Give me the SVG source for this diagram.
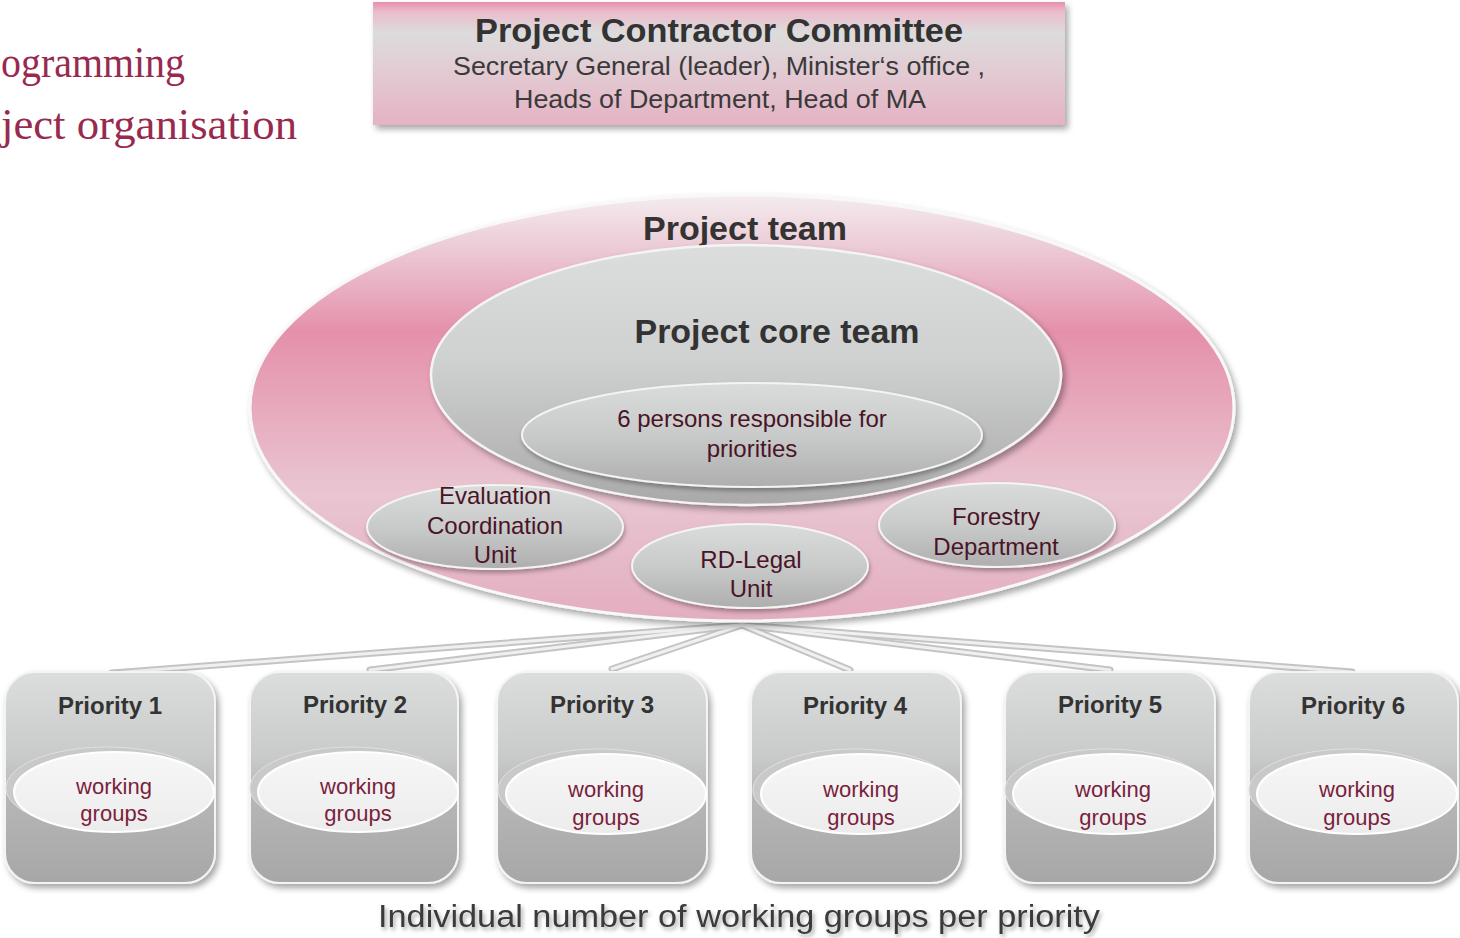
<svg xmlns="http://www.w3.org/2000/svg" width="1460" height="938" viewBox="0 0 1460 938">
<defs>
<linearGradient id="gTop" x1="0" y1="0" x2="0" y2="1">
<stop offset="0" stop-color="#e78fae"/>
<stop offset="0.08" stop-color="#ebbccb"/>
<stop offset="0.25" stop-color="#dcdcdc"/>
<stop offset="0.55" stop-color="#e2ccd4"/>
<stop offset="1" stop-color="#e5b2c4"/>
</linearGradient>
<linearGradient id="gTeam" x1="0" y1="0" x2="0" y2="1">
<stop offset="0" stop-color="#f4ecee"/>
<stop offset="0.12" stop-color="#ecccd6"/>
<stop offset="0.32" stop-color="#e590ab"/>
<stop offset="0.7" stop-color="#e9c6d1"/>
<stop offset="1" stop-color="#e3adc0"/>
</linearGradient>
<linearGradient id="gCore" x1="0" y1="0" x2="0" y2="1">
<stop offset="0" stop-color="#dcdddd"/>
<stop offset="0.45" stop-color="#cfd0d0"/>
<stop offset="1" stop-color="#a9a9a9"/>
</linearGradient>
<linearGradient id="gSmall" x1="0" y1="0" x2="0" y2="1">
<stop offset="0" stop-color="#dadbdb"/>
<stop offset="0.5" stop-color="#c9caca"/>
<stop offset="1" stop-color="#aeaeae"/>
</linearGradient>
<linearGradient id="gBox" x1="0" y1="0" x2="0" y2="1">
<stop offset="0" stop-color="#dcdddd"/>
<stop offset="0.4" stop-color="#c9caca"/>
<stop offset="0.6" stop-color="#b6b6b6"/>
<stop offset="1" stop-color="#a7a7a7"/>
</linearGradient>
<linearGradient id="gWG" x1="0" y1="0" x2="0" y2="1">
<stop offset="0" stop-color="#f7f7f7"/>
<stop offset="1" stop-color="#ececec"/>
</linearGradient>
<filter id="sh" x="-10%" y="-10%" width="125%" height="130%">
<feDropShadow dx="3" dy="4" stdDeviation="3" flood-color="#000" flood-opacity="0.35"/>
</filter>
<filter id="shs" x="-10%" y="-10%" width="125%" height="140%">
<feDropShadow dx="1" dy="3" stdDeviation="2" flood-color="#000" flood-opacity="0.3"/>
</filter>
<filter id="tsh" x="-5%" y="-20%" width="110%" height="150%">
<feDropShadow dx="2" dy="3" stdDeviation="2" flood-color="#000" flood-opacity="0.35"/>
</filter>
</defs>
<style>
.hd{font-family:"Liberation Sans",Arial,sans-serif;font-weight:bold;fill:#333333;text-anchor:middle}
.tx{font-family:"Liberation Sans",Arial,sans-serif;fill:#3a3a3a;text-anchor:middle}
.mr{font-family:"Liberation Sans",Arial,sans-serif;fill:#4a1426;text-anchor:middle;font-size:24px}
.wg{font-family:"Liberation Sans",Arial,sans-serif;fill:#7a1f3d;text-anchor:middle;font-size:22px}
.pr{font-size:24px}
.ttl{font-family:"Liberation Serif","Times New Roman",serif;fill:#982a4f;font-size:44px}
.edge{fill:none;stroke:#c4c4c4;stroke-width:7;stroke-linecap:round}
.edge2{fill:none;stroke:#f0f0f0;stroke-width:3;stroke-linecap:round}
.box{fill:url(#gBox);stroke:#f4f4f4;stroke-width:2}
.wgb{fill:#c9c9c9;stroke:#e0e0e0;stroke-width:1}
.wgf{fill:url(#gWG);stroke:#ffffff;stroke-width:2}
.sm{fill:url(#gSmall);stroke:#f4f4f4;stroke-width:2}
</style>
<rect width="1460" height="938" fill="#ffffff"/>

<g id="title">
<text class="ttl" x="1" y="77" textLength="184" lengthAdjust="spacingAndGlyphs">ogramming</text>
<text class="ttl" x="1" y="139" textLength="296" lengthAdjust="spacingAndGlyphs">ject organisation</text>
</g>

<g id="connectors">
<path class="edge" d="M742 625 L112 673"/>
<path class="edge" d="M742 625 L370 670"/>
<path class="edge" d="M742 625 L612 669"/>
<path class="edge" d="M742 625 L850 670"/>
<path class="edge" d="M742 625 L1110 670"/>
<path class="edge" d="M742 625 L1352 672"/>
<path class="edge2" d="M742 625 L112 673"/>
<path class="edge2" d="M742 625 L370 670"/>
<path class="edge2" d="M742 625 L612 669"/>
<path class="edge2" d="M742 625 L850 670"/>
<path class="edge2" d="M742 625 L1110 670"/>
<path class="edge2" d="M742 625 L1352 672"/>
<rect x="716" y="114" width="4" height="11" fill="#f4f4f4"/>
</g>

<g id="committee">
<rect x="373" y="2" width="692" height="123" fill="url(#gTop)" filter="url(#sh)"/>
<text class="hd" x="719" y="42" font-size="33" textLength="488" lengthAdjust="spacingAndGlyphs">Project Contractor Committee</text>
<text class="tx" x="719" y="75" font-size="26" textLength="532" lengthAdjust="spacingAndGlyphs">Secretary General (leader), Minister‘s office ,</text>
<text class="tx" x="720" y="108" font-size="26" textLength="412" lengthAdjust="spacingAndGlyphs">Heads of Department, Head of MA</text>
</g>

<g id="project-team">
<ellipse cx="742" cy="408" rx="492" ry="213" fill="url(#gTeam)" stroke="#f8f8f8" stroke-width="3" filter="url(#sh)"/>
<text class="hd" x="745" y="240" font-size="33" textLength="204" lengthAdjust="spacingAndGlyphs">Project team</text>
</g>

<g id="core-team">
<ellipse cx="746" cy="375" rx="315" ry="130" fill="url(#gCore)" stroke="#f4f4f4" stroke-width="2.5" filter="url(#sh)"/>
<text class="hd" x="777" y="343" font-size="33" textLength="285" lengthAdjust="spacingAndGlyphs">Project core team</text>
</g>

<g id="persons">
<ellipse cx="752" cy="435" rx="230" ry="52" fill="url(#gSmall)" stroke="#f4f4f4" stroke-width="2" filter="url(#shs)"/>
<text class="mr" x="752" y="427">6 persons responsible for</text>
<text class="mr" x="752" y="457">priorities</text>
</g>

<g id="evaluation">
<ellipse cx="495" cy="527" rx="128" ry="42" class="sm" filter="url(#shs)"/>
<text class="mr" x="495" y="504">Evaluation</text>
<text class="mr" x="495" y="534">Coordination</text>
<text class="mr" x="495" y="563">Unit</text>
</g>

<g id="rd-legal">
<ellipse cx="750" cy="566" rx="118" ry="42" class="sm" filter="url(#shs)"/>
<text class="mr" x="751" y="568">RD-Legal</text>
<text class="mr" x="751" y="597">Unit</text>
</g>

<g id="forestry">
<ellipse cx="997" cy="525" rx="118" ry="42" class="sm" filter="url(#shs)"/>
<text class="mr" x="996" y="525">Forestry</text>
<text class="mr" x="996" y="555">Department</text>
</g>

<g id="priority1">
<rect class="box" x="5" y="672" width="210" height="211" rx="30" filter="url(#sh)"/>
<text class="hd pr" x="110" y="714">Priority 1</text>
<ellipse class="wgb" cx="107" cy="788" rx="101" ry="41"/>
<ellipse class="wgf" cx="114" cy="792" rx="100" ry="40"/>
<text class="wg" x="114" y="794">working</text>
<text class="wg" x="114" y="821">groups</text>
</g>

<g id="priority2">
<rect class="box" x="250" y="672" width="208" height="211" rx="30" filter="url(#sh)"/>
<text class="hd pr" x="355" y="713">Priority 2</text>
<ellipse class="wgb" cx="351" cy="788" rx="101" ry="41"/>
<ellipse class="wgf" cx="358" cy="792" rx="100" ry="40"/>
<text class="wg" x="358" y="794">working</text>
<text class="wg" x="358" y="821">groups</text>
</g>

<g id="priority3">
<rect class="box" x="497" y="672" width="210" height="211" rx="30" filter="url(#sh)"/>
<text class="hd pr" x="602" y="713">Priority 3</text>
<ellipse class="wgb" cx="599" cy="790" rx="101" ry="41"/>
<ellipse class="wgf" cx="606" cy="794" rx="100" ry="40"/>
<text class="wg" x="606" y="797">working</text>
<text class="wg" x="606" y="825">groups</text>
</g>

<g id="priority4">
<rect class="box" x="751" y="672" width="210" height="211" rx="30" filter="url(#sh)"/>
<text class="hd pr" x="855" y="714">Priority 4</text>
<ellipse class="wgb" cx="854" cy="790" rx="101" ry="41"/>
<ellipse class="wgf" cx="861" cy="794" rx="100" ry="40"/>
<text class="wg" x="861" y="797">working</text>
<text class="wg" x="861" y="825">groups</text>
</g>

<g id="priority5">
<rect class="box" x="1005" y="672" width="210" height="211" rx="30" filter="url(#sh)"/>
<text class="hd pr" x="1110" y="713">Priority 5</text>
<ellipse class="wgb" cx="1106" cy="790" rx="101" ry="41"/>
<ellipse class="wgf" cx="1113" cy="794" rx="100" ry="40"/>
<text class="wg" x="1113" y="797">working</text>
<text class="wg" x="1113" y="825">groups</text>
</g>

<g id="priority6">
<rect class="box" x="1249" y="672" width="209" height="211" rx="30" filter="url(#sh)"/>
<text class="hd pr" x="1353" y="714">Priority 6</text>
<ellipse class="wgb" cx="1350" cy="790" rx="101" ry="41"/>
<ellipse class="wgf" cx="1357" cy="794" rx="100" ry="40"/>
<text class="wg" x="1357" y="797">working</text>
<text class="wg" x="1357" y="825">groups</text>
</g>

<g id="caption">
<text class="tx" x="739" y="927" font-size="31" fill="#333333" textLength="722" lengthAdjust="spacingAndGlyphs" filter="url(#tsh)">Individual number of working groups per priority</text>
</g>
</svg>
